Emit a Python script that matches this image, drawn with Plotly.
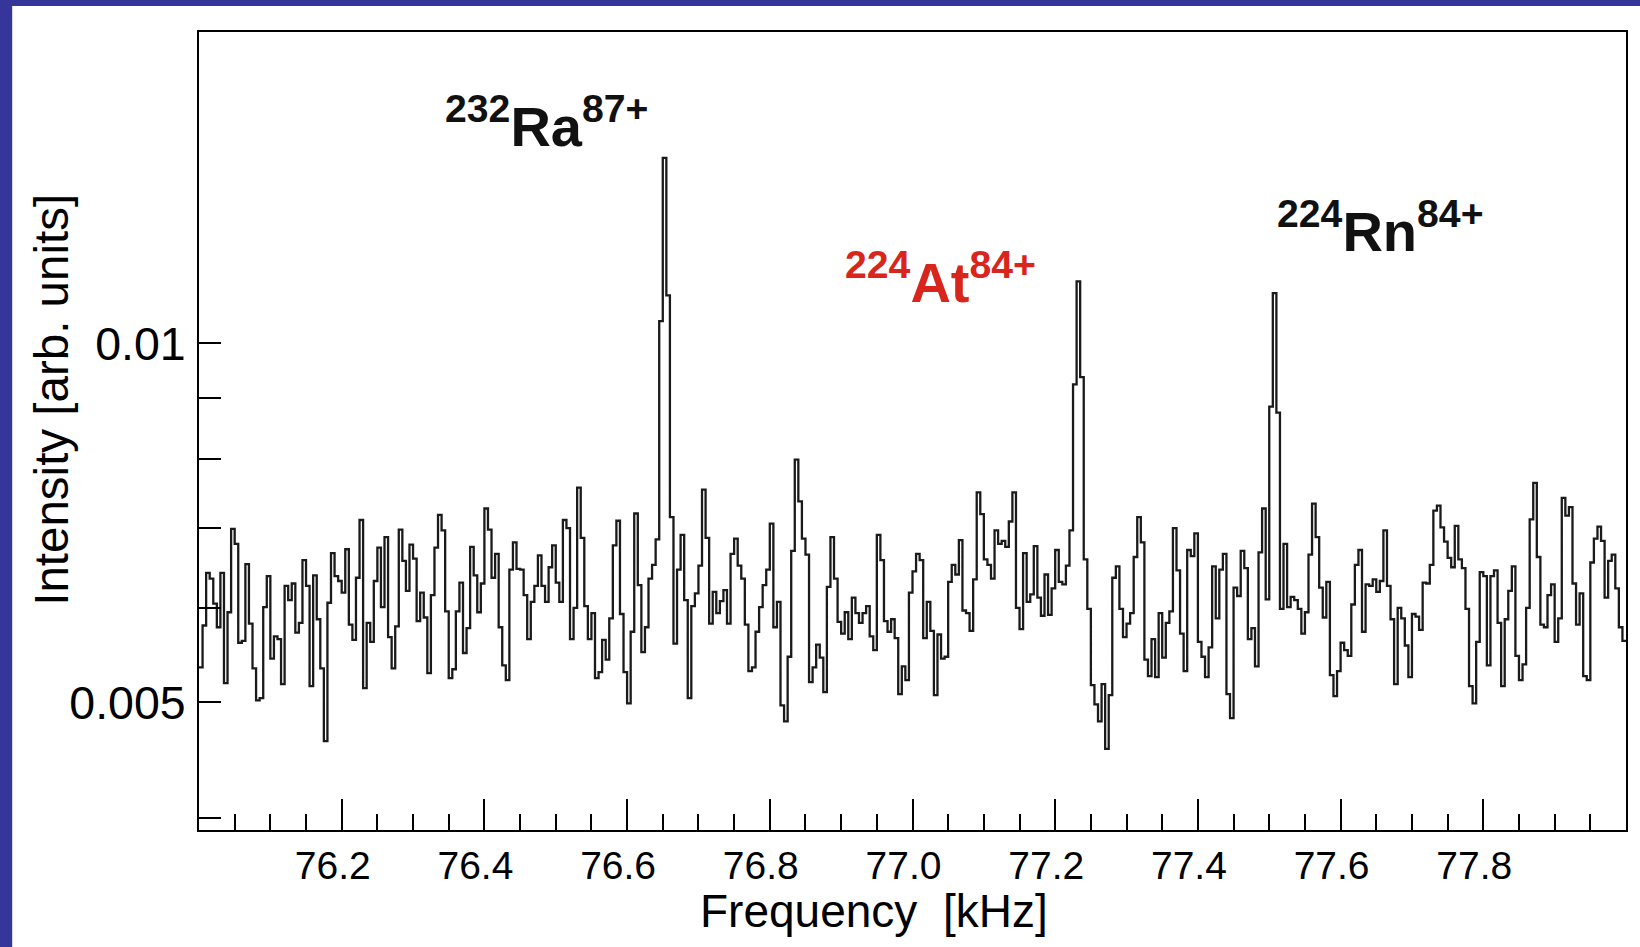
import math
import plotly.graph_objects as go

# ---------------- data ----------------
F_START = 76.0          # kHz, low edge of first bin
BIN_WIDTH = 0.005       # kHz
SCALE = 1e-3            # intensity values below are in units of 1e-3 (arb. units)

intensity = [
    5.35, 5.80, 6.42, 6.35, 6.05, 5.78, 6.42, 5.19, 5.95, 6.99,
    6.79, 5.61, 5.63, 6.53, 5.82, 5.34, 5.02, 5.04, 6.01, 6.38,
    5.44, 5.68, 5.65, 5.18, 6.26, 6.09, 6.29, 5.72, 5.83, 6.58,
    6.26, 5.16, 6.39, 5.87, 5.34, 4.64, 6.06, 6.67, 6.38, 6.32,
    6.18, 6.72, 5.81, 5.64, 6.36, 7.11,
    5.14, 5.83, 5.62, 6.32, 6.74, 6.01, 6.88, 5.67, 5.34, 5.79,
    6.98, 6.57, 6.20, 6.78, 6.60, 5.85, 6.18, 5.89, 5.29, 6.15,
    6.74, 7.18, 6.97, 5.96, 5.24, 5.33, 5.96, 6.30, 5.50, 5.77,
    6.75, 6.39, 5.95, 6.29, 7.27, 6.98, 6.36, 6.66, 5.78, 5.37,
    5.22, 6.46, 6.81, 6.47,
    6.46, 6.15, 5.65, 6.07, 6.26, 6.64, 6.26, 6.07, 6.49, 6.77,
    6.30, 6.07, 7.11, 7.00, 5.65, 6.00, 7.57, 6.87, 6.02, 5.65,
    5.94, 5.24, 5.30, 5.64, 5.43, 5.88, 6.77, 7.10, 5.93, 5.30,
    4.99, 5.73, 7.20, 6.27, 5.51, 5.78, 6.35, 6.52, 6.85, 10.44,
    14.31, 10.97, 7.15, 5.60, 6.46, 6.91,
    6.09, 5.04, 6.02, 6.17, 6.51, 7.54, 6.87, 5.82, 6.19, 5.94,
    6.08, 6.21, 5.82, 6.66, 6.86, 6.51, 6.35, 5.81, 5.31, 5.35,
    5.73, 6.01, 6.27, 6.46, 7.06, 5.78, 6.07, 4.97, 4.82, 5.46,
    6.70, 7.99, 7.37, 6.86, 6.65, 5.20, 5.35, 5.59, 5.45, 5.10,
    6.25, 6.88, 6.35, 5.84, 5.71, 5.95,
    5.65, 6.12, 5.94, 5.83, 5.94, 6.02, 5.68, 5.53, 6.91, 6.58,
    5.85, 5.73, 5.87, 5.66, 5.08, 5.36, 5.22, 6.18, 6.44, 6.66,
    6.58, 5.66, 6.07, 5.74, 5.07, 5.70, 5.44, 5.46, 6.31, 6.52,
    6.40, 6.84, 5.97, 5.94, 5.74, 6.34, 7.50, 7.19, 6.59, 6.52,
    6.35, 6.97, 6.79, 6.83, 6.75, 7.09, 7.50,
    6.00, 5.76, 6.67, 6.07, 6.16, 6.76, 6.12, 5.91, 6.40, 5.92,
    6.23, 6.71, 6.31, 6.28, 6.51, 6.97, 9.24, 11.27, 9.37, 6.59,
    5.99, 5.17, 4.98, 4.82, 5.18, 4.57, 5.07, 6.36, 6.50, 5.99,
    5.67, 5.82, 5.94, 6.62, 7.15, 6.81, 5.43, 5.26, 5.65, 5.25,
    5.94, 5.45, 5.83, 5.96, 7.00, 6.45,
    5.71, 5.31, 6.71, 6.63, 6.93, 5.62, 5.46, 5.25, 5.56, 6.50,
    5.88, 6.46, 6.66, 5.08, 4.85, 6.24, 6.14, 6.70, 6.48, 5.65,
    5.77, 5.36, 6.68, 7.27, 6.10, 8.85, 11.02, 8.75, 5.99, 6.79,
    6.01, 6.13, 6.09, 5.99, 5.71, 5.95, 6.65, 7.34, 6.88, 6.24,
    5.89, 6.31, 5.27, 5.06, 5.31, 5.61, 5.53, 5.47,
    6.04, 6.52, 6.71, 5.73, 6.28, 6.26, 6.34, 6.19, 6.32, 6.97,
    6.26, 5.87, 5.18, 6.00, 5.88, 5.58, 5.25, 5.93, 5.90, 5.75,
    6.30, 6.29, 6.52, 7.24, 7.31, 7.01, 6.82, 6.61, 6.49, 7.03,
    6.59, 6.48, 5.99, 5.16, 4.99, 5.62, 6.43, 6.38, 5.37, 6.38,
    6.45, 5.83, 5.16,
    5.87, 6.20, 6.50, 5.47, 5.22, 5.38, 6.00, 7.12, 7.64, 6.62,
    5.81, 5.78, 6.15, 6.28, 5.62, 5.88, 7.42, 7.17, 7.29, 6.29,
    5.81, 6.17, 5.26, 5.22, 6.55, 6.86, 7.02, 6.83, 6.12, 6.57,
    6.65, 6.23, 5.78, 5.63,
]

x_tick_vals = [76.2, 76.4, 76.6, 76.8, 77.0, 77.2, 77.4, 77.6, 77.8]
x_tick_text = ["76.2", "76.4", "76.6", "76.8", "77.0", "77.2", "77.4", "77.6", "77.8"]
y_tick_vals = [0.005, 0.01]
y_tick_text = ["0.005", "0.01"]
y_minor_vals = [0.004, 0.006, 0.007, 0.008, 0.009]
y_decade_vals = [0.01]

label_text = ["<sup>232</sup>Ra<sup>87+</sup>", "<sup>224</sup>At<sup>84+</sup>", "<sup>224</sup>Rn<sup>84+</sup>"]
label_x = [76.342, 76.903, 77.508]
label_y = [0.01532, 0.01134, 0.01250]
label_color = ["#111111", "#d8261c", "#111111"]

X_RANGE = [76.0, 78.0]
Y_RANGE_LOG = [-2.40808, -1.73888]

# ---------------- figure ----------------
edges = [F_START + i * BIN_WIDTH for i in range(len(intensity) + 1)]
yvals = [v * SCALE for v in intensity] + [intensity[-1] * SCALE]

FONT = "Liberation Sans, Arial, Helvetica, sans-serif"
BLUE = "#35359a"

fig = go.Figure()
fig.add_trace(go.Scatter(
    x=edges, y=yvals, mode="lines",
    line=dict(shape="hv", color="#1a1a1a", width=2.3),
    hoverinfo="skip", showlegend=False,
))

fig.update_layout(
    width=1640, height=947,
    margin=dict(l=199, r=12, t=32, b=117),
    paper_bgcolor="white", plot_bgcolor="white",
    font=dict(family=FONT, color="black"),
    showlegend=False,
    xaxis=dict(
        range=X_RANGE, showgrid=False, zeroline=False,
        showline=True, linecolor="black", linewidth=2, mirror=True,
        tickmode="array", tickvals=x_tick_vals, ticktext=x_tick_text,
        ticks="inside", ticklen=31, tickwidth=1.5, tickcolor="black",
        tickfont=dict(size=39, family=FONT), ticklabelshift=-9,
        minor=dict(ticks="inside", ticklen=16, tickwidth=1.5, tickcolor="black",
                   dtick=0.05, tick0=76.0, showgrid=False),
    ),
    yaxis=dict(
        type="log", range=Y_RANGE_LOG, showgrid=False, zeroline=False,
        showline=True, linecolor="black", linewidth=2, mirror=True,
        tickmode="array", tickvals=y_tick_vals, ticktext=y_tick_text,
        ticks="inside", ticklen=22, tickwidth=1.5, tickcolor="black",
        tickfont=dict(size=46.5, family=FONT), ticklabelstandoff=2,
        minor=dict(ticks="inside", ticklen=22, tickwidth=1.5, tickcolor="black",
                   tickmode="array", tickvals=y_minor_vals, showgrid=False),
    ),
    yaxis2=dict(
        type="log", range=Y_RANGE_LOG, overlaying="y", side="left", anchor="x",
        showgrid=False, zeroline=False, showline=False,
        tickmode="array", tickvals=y_decade_vals, showticklabels=False,
        ticks="inside", ticklen=43, tickwidth=1.5, tickcolor="black",
    ),
)

# axis titles
fig.add_annotation(text="Frequency\u00a0\u00a0[kHz]", xref="paper", yref="paper",
                   x=0.473, y=-0.102, xanchor="center", yanchor="middle", showarrow=False,
                   font=dict(size=46, family=FONT, color="black"))
fig.add_annotation(text="Intensity [arb. units]", xref="paper", yref="paper",
                   x=-0.1035, y=0.5395, xanchor="center", yanchor="middle", showarrow=False,
                   textangle=-90, font=dict(size=47.5, family=FONT, color="black"))

# peak labels
for t, x, y, c in zip(label_text, label_x, label_y, label_color):
    fig.add_annotation(text="<b>" + t + "</b>", x=x, y=math.log10(y),
                       xref="x", yref="y", xanchor="left", yanchor="middle",
                       showarrow=False, font=dict(size=56, family=FONT, color=c))

# blue page border (left and top strips)
fig.add_shape(type="rect", xref="paper", yref="paper", x0=-0.2, x1=-0.1309, y0=-0.2,
              y1=1.1, fillcolor=BLUE, line=dict(width=0), layer="above")
fig.add_shape(type="rect", xref="paper", yref="paper", x0=-0.2, x1=1.1, y0=1.0326,
              y1=1.1, fillcolor=BLUE, line=dict(width=0), layer="above")

fig.write_html("out.html")
